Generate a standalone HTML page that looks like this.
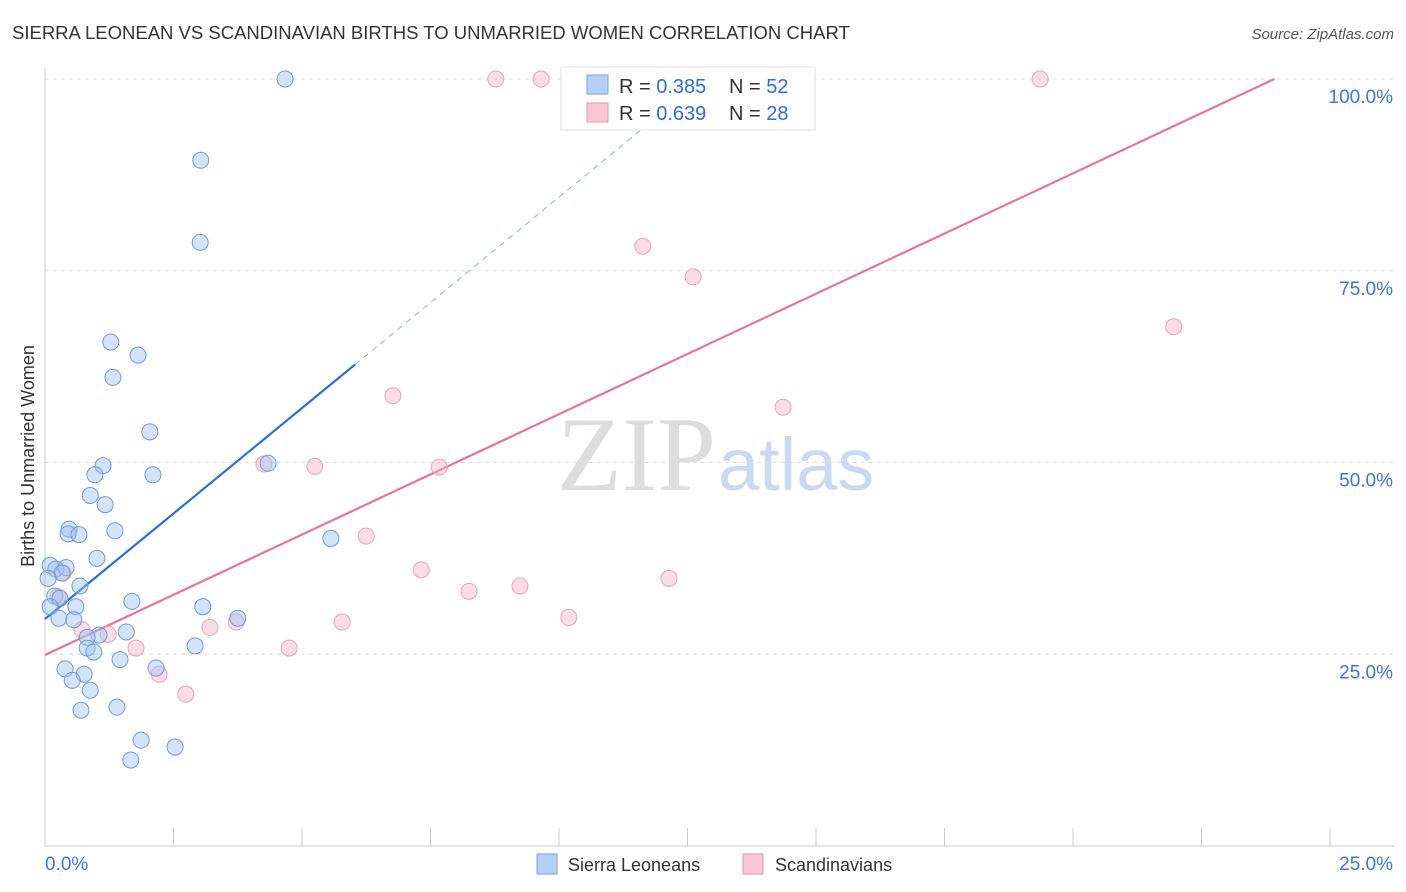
<!DOCTYPE html>
<html><head><meta charset="utf-8"><style>
body{margin:0;background:#fff;font-family:"Liberation Sans",sans-serif;}
svg{display:block}
</style></head><body>
<svg id="chart" width="1406" height="892" xmlns="http://www.w3.org/2000/svg">
<text x="12" y="39" font-size="18.5" fill="#333">SIERRA LEONEAN VS SCANDINAVIAN BIRTHS TO UNMARRIED WOMEN CORRELATION CHART</text>
<text x="1394" y="39" font-size="15" fill="#555" font-style="italic" text-anchor="end">Source: ZipAtlas.com</text>
<text x="716" y="490" font-size="106" fill="#ddd" text-anchor="end" font-family="Liberation Serif,serif">ZIP</text>
<text x="718" y="490" font-size="74" fill="#c8daf2">atlas</text>
<g id="grid"></g><g id="axes"></g><g id="lines"></g><g id="pts"></g>
<text transform="translate(34,456) rotate(-90)" font-size="18" fill="#333" text-anchor="middle">Births to Unmarried Women</text>
<g>
<rect x="561" y="67" width="254" height="63" fill="#fff" stroke="#ddd"/>
<rect x="587" y="75" width="21" height="19" fill="#b6cff2" stroke="#7aa5e0"/>
<rect x="587" y="103" width="21" height="19" fill="#f8c6d4" stroke="#e895b0"/>
<text x="619" y="93" font-size="20" fill="#333">R = <tspan fill="#2f6fce">0.385</tspan></text>
<text x="729" y="93" font-size="20" fill="#333">N = <tspan fill="#2f6fce">52</tspan></text>
<text x="619" y="120" font-size="20" fill="#333">R = <tspan fill="#2f6fce">0.639</tspan></text>
<text x="729" y="120" font-size="20" fill="#333">N = <tspan fill="#2f6fce">28</tspan></text>
</g>
<g>
<rect x="537" y="854" width="20" height="20" fill="#b6cff2" stroke="#7aa5e0"/>
<text x="568" y="871" font-size="18" fill="#333">Sierra Leoneans</text>
<rect x="743" y="854" width="20" height="20" fill="#f8c6d4" stroke="#e895b0"/>
<text x="775" y="871" font-size="18" fill="#333">Scandinavians</text>
</g>
</svg>
<script>
const blueX=[4.67,3.03,3.02,1.28,1.81,1.32,2.04,2.10,4.34,1.13,0.97,0.88,1.17,0.47,0.45,0.66,1.36,5.56,1.01,0.10,0.21,0.41,0.33,0.06,0.68,0.19,0.29,1.69,0.10,0.60,3.07,0.27,0.56,3.75,1.58,1.05,0.82,0.82,0.95,2.92,1.46,0.39,2.16,0.76,0.53,0.88,0.70,1.40,1.87,2.53,1.67];
const blueY=[100,89.4,78.7,65.7,64.0,61.1,54.0,48.4,49.9,49.6,48.4,45.7,44.5,41.3,40.7,40.6,41.1,40.1,37.5,36.6,36.1,36.3,35.6,34.9,33.9,32.6,32.3,31.9,31.2,31.2,31.2,29.7,29.5,29.7,27.9,27.5,27.2,25.8,25.3,26.1,24.3,23.1,23.2,22.4,21.6,20.3,17.7,18.1,13.8,12.9,11.2];
const pinkX=[8.77,9.65,19.36,11.63,12.61,21.96,6.77,14.36,4.26,5.25,7.67,6.25,7.32,12.14,9.24,8.25,0.35,0.25,10.19,5.78,3.72,3.21,0.72,1.23,1.77,4.75,2.22,2.74];
const pinkY=[100,100,100,78.2,74.2,67.7,58.7,57.2,49.8,49.5,49.4,40.4,36.0,34.9,33.9,33.2,35.6,32.5,29.8,29.2,29.2,28.5,28.2,27.6,25.8,25.8,22.4,19.8];
const blueTrend=[29.6,5.5];const pinkTrend=[24.9,3.14];
const yTicks=[25,50,75,100];const yTickLabels=["25.0%","50.0%","75.0%","100.0%"];
const xLabels=["0.0%","25.0%"];
const X=v=>45+v*51.4, Y=v=>846-v*7.67;
const NS="http://www.w3.org/2000/svg";
function mk(p,t,a){const e=document.createElementNS(NS,t);for(const k in a)e.setAttribute(k,a[k]);document.getElementById(p).appendChild(e);return e;}
yTicks.forEach((t,i)=>{
 const l=mk('grid','line',{x1:45,x2:1394,y1:Y(t),y2:Y(t),stroke:'#ddd','stroke-dasharray':'4,4'});
 
 
 const tx=mk('grid','text',{x:1393,y:Y(t)+24,'font-size':19,fill:'#3b78d4','text-anchor':'end'});tx.textContent=yTickLabels[i];
 
 
});
const ax=mk('axes','line',{x1:45,x2:1394,y1:846,y2:846,stroke:'#ccc'});


const ay=mk('axes','line',{x1:45,x2:45,y1:68,y2:846,stroke:'#ccc'});


for(let i=0;i<=10;i++){const t=mk('axes','line',{x1:X(i*2.5),x2:X(i*2.5),y1:828,y2:846,stroke:'#ccc'});
 
 }
[[45,'start',xLabels[0]],[1393,'end',xLabels[1]]].forEach(d=>{const t=mk('axes','text',{x:d[0],y:870,'font-size':19,fill:'#3b78d4','text-anchor':d[1]});t.textContent=d[2];
 
 });
const bEnd=6.03;
const bl=mk('lines','line',{x1:X(0),y1:Y(blueTrend[0]),x2:X(bEnd),y2:Y(blueTrend[0]+blueTrend[1]*bEnd),stroke:'#2a6fd6','stroke-width':2.2});


const bEnd2=(100-blueTrend[0])/blueTrend[1];
const bd=mk('lines','line',{x1:X(bEnd),y1:Y(blueTrend[0]+blueTrend[1]*bEnd),x2:X(bEnd2),y2:Y(100),stroke:'#8fb0e0','stroke-width':1,'stroke-dasharray':'6,5'});


const pEnd=(100-pinkTrend[0])/pinkTrend[1];
const pl=mk('lines','line',{x1:X(0),y1:Y(pinkTrend[0]),x2:X(pEnd),y2:Y(100),stroke:'#e8739a','stroke-width':2.2});


pinkX.forEach((x,i)=>{const c=mk('pts','circle',{cx:X(x),cy:Y(pinkY[i]),r:8,fill:'rgba(246,180,200,0.45)',stroke:'#eba3bb','stroke-width':1});
 
 });
blueX.forEach((x,i)=>{const c=mk('pts','circle',{cx:X(x),cy:Y(blueY[i]),r:8,fill:'rgba(160,195,240,0.45)',stroke:'#6f9ad8','stroke-width':1});
 
 });
</script>
</body></html>
